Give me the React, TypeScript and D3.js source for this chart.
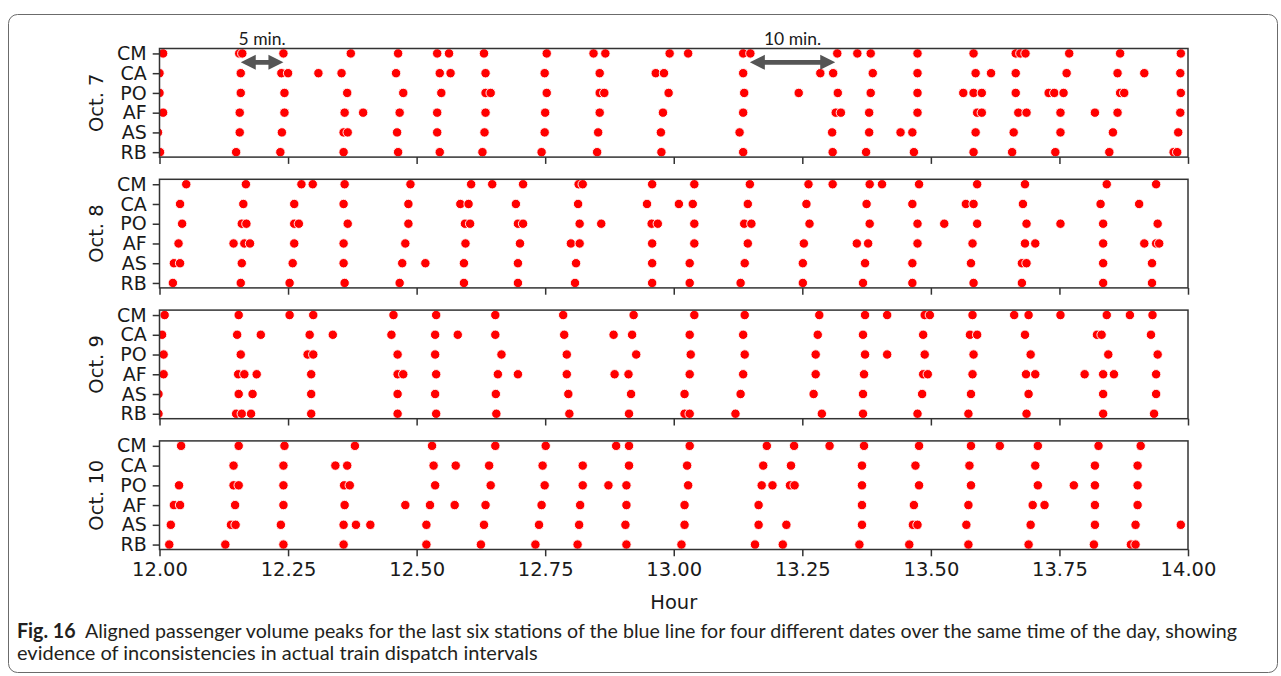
import React, { useEffect, useRef } from "react";
import * as d3 from "d3";

// station rows (top to bottom) and the four dates
const stations = ["CM", "CA", "PO", "AF", "AS", "RB"];
const dates = ["Oct. 7", "Oct. 8", "Oct. 9", "Oct. 10"];
const xTicks = [12, 12.25, 12.5, 12.75, 13, 13.25, 13.5, 13.75, 14];

// peak times (hour of day), one list per station in the order above
const oct7 = [
  [12.007, 12.155, 12.161, 12.241, 12.372, 12.464, 12.54, 12.563, 12.631, 12.753, 12.844, 12.867, 12.992, 13.028, 13.135, 13.149, 13.318, 13.357, 13.383, 13.474, 13.583, 13.665, 13.674, 13.684, 13.769, 13.868, 13.986],
  [12.0, 12.158, 12.237, 12.25, 12.309, 12.354, 12.46, 12.545, 12.566, 12.634, 12.749, 12.856, 12.965, 12.981, 13.135, 13.285, 13.31, 13.387, 13.474, 13.587, 13.617, 13.665, 13.764, 13.863, 13.915, 13.985],
  [12.0, 12.158, 12.243, 12.365, 12.474, 12.548, 12.634, 12.644, 12.753, 12.856, 12.865, 12.99, 13.137, 13.243, 13.319, 13.383, 13.474, 13.563, 13.583, 13.599, 13.665, 13.729, 13.74, 13.758, 13.868, 13.876, 13.986],
  [12.007, 12.156, 12.243, 12.36, 12.396, 12.467, 12.54, 12.634, 12.75, 12.856, 12.979, 13.135, 13.315, 13.325, 13.38, 13.474, 13.59, 13.599, 13.67, 13.686, 13.752, 13.819, 13.863, 13.985],
  [11.997, 12.156, 12.238, 12.358, 12.366, 12.462, 12.54, 12.632, 12.749, 12.853, 12.975, 13.128, 13.308, 13.38, 13.441, 13.464, 13.587, 13.661, 13.752, 13.854, 13.981],
  [12.001, 12.149, 12.235, 12.358, 12.464, 12.545, 12.628, 12.743, 12.851, 12.976, 13.135, 13.309, 13.374, 13.467, 13.583, 13.658, 13.742, 13.847, 13.972, 13.979],
];

const oct8 = [
  [12.052, 12.168, 12.276, 12.298, 12.36, 12.488, 12.606, 12.647, 12.707, 12.815, 12.823, 12.958, 13.04, 13.148, 13.262, 13.309, 13.381, 13.405, 13.477, 13.59, 13.683, 13.842, 13.938],
  [12.04, 12.163, 12.262, 12.358, 12.484, 12.585, 12.601, 12.693, 12.814, 12.948, 13.01, 13.037, 13.144, 13.258, 13.375, 13.464, 13.568, 13.583, 13.679, 13.83, 13.905],
  [12.044, 12.16, 12.169, 12.262, 12.271, 12.366, 12.484, 12.594, 12.604, 12.697, 12.707, 12.817, 12.859, 12.957, 12.969, 13.04, 13.137, 13.151, 13.264, 13.381, 13.474, 13.526, 13.59, 13.686, 13.752, 13.835, 13.941],
  [12.037, 12.144, 12.165, 12.176, 12.262, 12.358, 12.478, 12.595, 12.701, 12.8, 12.817, 12.958, 13.04, 13.144, 13.253, 13.356, 13.378, 13.474, 13.581, 13.683, 13.703, 13.835, 13.915, 13.938, 13.944],
  [12.028, 12.04, 12.16, 12.259, 12.358, 12.472, 12.517, 12.592, 12.697, 12.81, 12.958, 13.031, 13.138, 13.251, 13.372, 13.464, 13.578, 13.677, 13.686, 13.835, 13.93],
  [12.026, 12.158, 12.253, 12.36, 12.467, 12.592, 12.697, 12.808, 12.958, 13.031, 13.13, 13.251, 13.368, 13.464, 13.583, 13.677, 13.835, 13.93],
];

const oct9 = [
  [12.01, 12.154, 12.253, 12.299, 12.455, 12.538, 12.653, 12.785, 12.922, 13.04, 13.138, 13.283, 13.372, 13.415, 13.488, 13.498, 13.581, 13.662, 13.69, 13.752, 13.842, 13.887, 13.931],
  [12.005, 12.151, 12.197, 12.292, 12.337, 12.451, 12.536, 12.58, 12.653, 12.787, 12.883, 12.919, 13.031, 13.135, 13.28, 13.368, 13.485, 13.576, 13.59, 13.683, 13.823, 13.832, 13.928],
  [12.008, 12.158, 12.288, 12.299, 12.463, 12.536, 12.665, 12.792, 12.927, 13.033, 13.138, 13.276, 13.372, 13.415, 13.488, 13.583, 13.694, 13.845, 13.941],
  [12.008, 12.153, 12.165, 12.189, 12.295, 12.463, 12.474, 12.538, 12.658, 12.697, 12.792, 12.885, 12.912, 13.031, 13.135, 13.276, 13.37, 13.485, 13.494, 13.581, 13.685, 13.703, 13.799, 13.835, 13.856, 13.938],
  [11.998, 12.154, 12.181, 12.295, 12.463, 12.536, 12.654, 12.795, 12.917, 13.021, 13.13, 13.272, 13.368, 13.483, 13.578, 13.69, 13.835, 13.938],
  [11.998, 12.149, 12.16, 12.178, 12.295, 12.463, 12.538, 12.655, 12.797, 12.913, 13.021, 13.031, 13.12, 13.288, 13.368, 13.474, 13.573, 13.686, 13.835, 13.934],
];

const oct10 = [
  [12.042, 12.154, 12.243, 12.38, 12.53, 12.653, 12.751, 12.888, 12.913, 13.031, 13.181, 13.234, 13.303, 13.37, 13.477, 13.578, 13.634, 13.708, 13.826, 13.908],
  [12.144, 12.241, 12.342, 12.365, 12.533, 12.576, 12.641, 12.745, 12.823, 12.913, 13.026, 13.174, 13.228, 13.366, 13.47, 13.575, 13.703, 13.819, 13.902],
  [12.038, 12.144, 12.154, 12.241, 12.359, 12.37, 12.536, 12.644, 12.749, 12.823, 12.873, 12.908, 13.028, 13.171, 13.192, 13.226, 13.235, 13.366, 13.477, 13.578, 13.708, 13.778, 13.819, 13.902],
  [12.028, 12.04, 12.147, 12.241, 12.36, 12.478, 12.526, 12.574, 12.634, 12.743, 12.818, 12.908, 13.021, 13.165, 13.366, 13.467, 13.573, 13.698, 13.721, 13.819, 13.902],
  [12.022, 12.139, 12.148, 12.236, 12.358, 12.382, 12.41, 12.519, 12.631, 12.738, 12.816, 12.906, 13.021, 13.165, 13.219, 13.366, 13.465, 13.474, 13.569, 13.694, 13.819, 13.898, 13.986],
  [12.019, 12.128, 12.241, 12.358, 12.519, 12.625, 12.731, 12.813, 12.908, 13.015, 13.158, 13.212, 13.361, 13.458, 13.573, 13.69, 13.817, 13.889, 13.898],
];

const peaks = [oct7, oct8, oct9, oct10];

// the two interval callouts over the first panel
const gaps = [
  { label: "5 min.", from: 12.158, to: 12.241 },
  { label: "10 min.", from: 13.148, to: 13.314 },
];

const captionBold = "Fig. 16";
const captionLine1 = "Aligned passenger volume peaks for the last six stations of the blue line for four different dates over the same time of the day, showing";
const captionLine2 = "evidence of inconsistencies in actual train dispatch intervals";

const W = 1281;
const H = 676;
const left = 159.5;
const right = 1188;
const panelTop = 48.5;
const panelStep = 130.8;
const panelH = 108.6;
const mplFont = "'DejaVu Sans', sans-serif";
const capFont = "Lato, 'Open Sans', sans-serif";

export default function App() {
  const svgRef = useRef<SVGSVGElement>(null);

  useEffect(() => {
    const svg = d3.select(svgRef.current);
    svg.selectAll("*").remove();

    const x = d3.scaleLinear().domain([12, 14]).range([left, right]);
    const defs = svg.append("defs");

    // outer rounded box around figure + caption
    svg.append("rect")
      .attr("x", 8.5).attr("y", 14.5)
      .attr("width", 1269).attr("height", 658)
      .attr("rx", 9)
      .attr("fill", "none")
      .attr("stroke", "#6b6b6b")
      .attr("stroke-width", 1);

    dates.forEach((date, i) => {
      const top = panelTop + i * panelStep;
      const y = d3.scalePoint<string>()
        .domain(stations)
        .range([top, top + panelH])
        .padding(0.25);

      const clipId = `panel-clip-${i}`;
      defs.append("clipPath").attr("id", clipId)
        .append("rect")
        .attr("x", left).attr("y", top)
        .attr("width", right - left).attr("height", panelH);

      const g = svg.append("g");

      const pts = peaks[i].flatMap((row, k) => row.map(t => ({ t, s: stations[k] })));
      g.append("g")
        .attr("clip-path", `url(#${clipId})`)
        .selectAll("circle")
        .data(pts)
        .join("circle")
        .attr("cx", d => x(d.t))
        .attr("cy", d => y(d.s) as number)
        .attr("r", 4.7)
        .attr("fill", "#ff0000")
        .attr("stroke", "#ffffff")
        .attr("stroke-width", 0.9);

      // y axis (station names)
      const ya = g.append("g")
        .attr("transform", `translate(${left},0)`)
        .call(d3.axisLeft(y).tickSize(6.8).tickPadding(6));
      ya.select(".domain").remove();
      ya.selectAll("line").attr("stroke", "#333").attr("stroke-width", 1.5);
      ya.selectAll("text")
        .attr("font-family", mplFont)
        .attr("font-size", 19)
        .attr("fill", "#1a1a1a");

      // x axis: tick marks on every panel, labels on the last one
      const xa = g.append("g")
        .attr("transform", `translate(0,${top + panelH})`)
        .call(d3.axisBottom(x)
          .tickValues(xTicks)
          .tickSize(6.8)
          .tickPadding(6)
          .tickFormat(i === dates.length - 1 ? d3.format(".2f") : () => ""));
      xa.select(".domain").remove();
      xa.selectAll("line").attr("stroke", "#333").attr("stroke-width", 1.5);
      xa.selectAll("text")
        .attr("font-family", mplFont)
        .attr("font-size", 19.5)
        .attr("fill", "#1a1a1a");

      // frame
      g.append("rect")
        .attr("x", left).attr("y", top)
        .attr("width", right - left).attr("height", panelH)
        .attr("fill", "none")
        .attr("stroke", "#333")
        .attr("stroke-width", 1.5);

      // date label
      g.append("text")
        .attr("transform", `translate(103,${top + panelH / 2}) rotate(-90)`)
        .attr("text-anchor", "middle")
        .attr("font-family", mplFont)
        .attr("font-size", 19.5)
        .attr("fill", "#1a1a1a")
        .text(date);

      if (i === 0) {
        const ay = ((y("CM") as number) + (y("CA") as number)) / 2 - 1;
        const headL = 15;
        const headW = 7.5;
        const shaft = 2.4;
        gaps.forEach(a => {
          const x0 = x(a.from);
          const x1 = x(a.to);
          const shape: [number, number][] = [
            [x0, ay],
            [x0 + headL, ay - headW],
            [x0 + headL, ay - shaft],
            [x1 - headL, ay - shaft],
            [x1 - headL, ay - headW],
            [x1, ay],
            [x1 - headL, ay + headW],
            [x1 - headL, ay + shaft],
            [x0 + headL, ay + shaft],
            [x0 + headL, ay + headW],
          ];
          g.append("path")
            .attr("d", d3.line()(shape) + "Z")
            .attr("fill", "#555555");
          g.append("text")
            .attr("x", (x0 + x1) / 2)
            .attr("y", 45)
            .attr("text-anchor", "middle")
            .attr("font-family", capFont)
            .attr("font-size", 17.5)
            .attr("fill", "#1a1a1a")
            .text(a.label);
        });
      }
    });

    // x axis title
    svg.append("text")
      .attr("x", (left + right) / 2)
      .attr("y", 609)
      .attr("text-anchor", "middle")
      .attr("font-family", mplFont)
      .attr("font-size", 19.5)
      .attr("fill", "#1a1a1a")
      .text("Hour");

    // caption
    const c1 = svg.append("text")
      .attr("x", 17)
      .attr("y", 638)
      .attr("font-family", capFont)
      .attr("font-size", 20)
      .attr("fill", "#231f20")
      .attr("textLength", 1220)
      .attr("lengthAdjust", "spacingAndGlyphs");
    c1.append("tspan").attr("font-weight", "bold").text(captionBold);
    c1.append("tspan").text("\u00a0\u00a0" + captionLine1);

    svg.append("text")
      .attr("x", 17)
      .attr("y", 660)
      .attr("font-family", capFont)
      .attr("font-size", 20)
      .attr("fill", "#231f20")
      .text(captionLine2);
  }, []);

  return (
    <svg
      ref={svgRef}
      width={W}
      height={H}
      style={{ position: "absolute", left: 0, top: 0, background: "#fff" }}
    />
  );
}
